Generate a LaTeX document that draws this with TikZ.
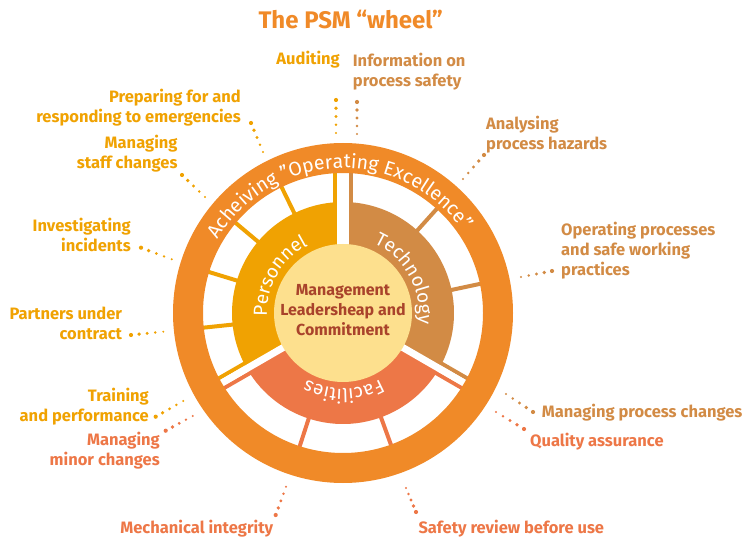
\documentclass[tikz,border=0pt]{standalone}
\usepackage{fontspec}
\setmainfont{Fira Sans}
\usetikzlibrary{calc,decorations.text}

\definecolor{ringorange}{HTML}{F08A28}
\definecolor{perscol}{HTML}{F0A202}
\definecolor{techcol}{HTML}{D28B45}
\definecolor{faccol}{HTML}{ED7747}
\definecolor{corecol}{HTML}{FDE08E}
\definecolor{coretext}{HTML}{A9432B}

% five dots, biggest at the label end (#1), smallest at the ring end (#2)
\newcommand{\psmdots}[3]{%
  \foreach \k in {0,...,4}
    \fill[#3] ($(#1)!\k/4!(#2)$) circle[radius={2.1-0.25*\k}];
}

\begin{document}
\begin{tikzpicture}[x=1pt, y=1pt,
    lbl/.style={font=\fontsize{16.5}{20}\selectfont\bfseries, inner sep=0pt},
    pers/.style={lbl, text=perscol},
    tech/.style={lbl, text=techcol},
    fac/.style={lbl, text=faccol},
    spoke/.style={line width=4pt},
    gap/.style={white, line width=#1}]
  \useasboundingbox (0,0) rectangle (747,-537);

  \node[font=\fontsize{24}{28}\selectfont\bfseries, text=ringorange, anchor=base, inner sep=0pt]
    (title) at (350.7,-28.3) {The PSM “wheel”};

  % the wheel
  \begin{scope}[shift={(343,-313)}]
    \fill[perscol] (0,0) -- (90:111) arc[start angle=90, end angle=210, radius=111] -- cycle;
    \fill[techcol] (0,0) -- (-30:111) arc[start angle=-30, end angle=90, radius=111] -- cycle;
    \fill[faccol] (0,0) -- (210:111) arc[start angle=210, end angle=330, radius=111] -- cycle;

    % spokes between the cells
    \foreach \a in {116,140,163,186}
      \draw[spoke, perscol] (\a:110) -- (\a:141);
    \foreach \a in {48,12}
      \draw[spoke, techcol] (\a:110) -- (\a:141);
    \foreach \a in {252,290}
      \draw[spoke, faccol] (\a:110) -- (\a:141);
    \draw[spoke, perscol] ([shift={(180:8)}]90:100) -- ([shift={(180:8)}]90:141);
    \draw[spoke, techcol] ([shift={(0:8)}]90:100) -- ([shift={(0:8)}]90:141);
    \draw[spoke, perscol] ([shift={(120:5.5)}]210:100) -- ([shift={(120:5.5)}]210:141);
    \draw[spoke, faccol] ([shift={(300:5.5)}]210:100) -- ([shift={(300:5.5)}]210:141);
    \draw[spoke, faccol] ([shift={(240:5.5)}]330:100) -- ([shift={(240:5.5)}]330:141);
    \draw[spoke, techcol] ([shift={(60:5.5)}]330:100) -- ([shift={(60:5.5)}]330:141);

    % white gaps between the three sectors
    \draw[gap=12pt] (0,0) -- (90:141);
    \draw[gap=7pt] (0,0) -- (210:141);
    \draw[gap=7pt] (0,0) -- (330:141);

    \fill[corecol] (0,0) circle[radius=69];
    \fill[ringorange, even odd rule] (0,0) circle[radius=170] (0,0) circle[radius=140];

    \path[decorate, decoration={text along path, text color=white, text align=center,
        text={|\fontsize{19.5}{20}\selectfont|Acheiving "Operating Excellence”}}]
      (182:145) arc[start angle=182, end angle=2, radius=145];

    \path[decorate, decoration={text along path, text color=white, text align=center,
        text={|\fontsize{19}{19}\selectfont|Personnel}}]
      (195:76) arc[start angle=195, end angle=105, radius=76];
    \path[decorate, decoration={text along path, text color=white, text align=center,
        text={|\fontsize{19}{19}\selectfont|Technology}}]
      (74:76) arc[start angle=74, end angle=-16, radius=76];
    \path[decorate, decoration={text along path, text color=white, text align=center,
        text={|\fontsize{19}{19}\selectfont|Facilities}}]
      (-44.5:76) arc[start angle=-44.5, end angle=-134.5, radius=76];

    \node[font=\fontsize{16}{20}\selectfont\bfseries, text=coretext, align=center, inner sep=0pt]
      (core) at (0,3) {Management\\Leadersheap and\\Commitment};
  \end{scope}

  % labels round the wheel
  \node[pers, anchor=base east] (audit) at (340,-65) {Auditing};
  \node[tech, anchor=north west, align=left] (info) at (352.7,-53) {Information on\\process safety};
  \node[pers, anchor=north east, align=right] (prep) at (241,-89) {Preparing for and\\responding to emergencies};
  \node[pers, anchor=north east, align=right] (staff) at (177.7,-135) {Managing\\staff changes};
  \node[tech, anchor=north west, align=left] (hazard) at (486,-116) {Analysing\\process hazards};
  \node[pers, anchor=north east, align=right] (invest) at (131,-218) {Investigating\\incidents};
  \node[tech, anchor=north west, align=left] (operate) at (561,-222) {Operating processes\\and safe working\\practices};
  \node[pers, anchor=north east, align=right] (partner) at (122.3,-306.5) {Partners under\\contract};
  \node[pers, anchor=north east, align=right] (train) at (149,-387.5) {Training\\and performance};
  \node[fac, anchor=north east, align=right] (minor) at (160,-432) {Managing\\minor changes};
  \node[tech, anchor=base west] (change) at (541.7,-417.3) {Managing process changes};
  \node[fac, anchor=base west] (quality) at (530,-446) {Quality assurance};
  \node[fac, anchor=base east] (mech) at (273.3,-533.3) {Mechanical integrity};
  \node[fac, anchor=base west] (safety) at (418.3,-533.3) {Safety review before use};

  % leader dots: label end, ring end
  \coordinate (audit-a) at (336,-100);   \coordinate (audit-b) at (336,-133);
  \coordinate (info-a) at (357,-102);    \coordinate (info-b) at (357,-134);
  \coordinate (prep-a) at (251,-123);    \coordinate (prep-b) at (263,-152);
  \coordinate (staff-a) at (182,-175);   \coordinate (staff-b) at (205,-197);
  \coordinate (hazard-a) at (484,-155);  \coordinate (hazard-b) at (463,-179);
  \coordinate (invest-a) at (141,-247.7); \coordinate (invest-b) at (171.7,-259.3);
  \coordinate (operate-a) at (552,-271); \coordinate (operate-b) at (521,-277);
  \coordinate (partner-a) at (131,-335); \coordinate (partner-b) at (163.3,-331.7);
  \coordinate (train-a) at (155.7,-416.7); \coordinate (train-b) at (183.3,-401);
  \coordinate (minor-a) at (165.7,-430.7); \coordinate (minor-b) at (192.7,-416);
  \coordinate (change-a) at (533,-412);  \coordinate (change-b) at (506,-394);
  \coordinate (quality-a) at (524,-429); \coordinate (quality-b) at (496,-412);
  \coordinate (safety-a) at (416,-512);  \coordinate (safety-b) at (406,-488);
  \coordinate (mech-a) at (275.7,-515);  \coordinate (mech-b) at (286,-486.7);

  \psmdots{audit-a}{audit-b}{perscol}
  \psmdots{info-a}{info-b}{techcol}
  \psmdots{prep-a}{prep-b}{perscol}
  \psmdots{staff-a}{staff-b}{perscol}
  \psmdots{hazard-a}{hazard-b}{techcol}
  \psmdots{invest-a}{invest-b}{perscol}
  \psmdots{operate-a}{operate-b}{techcol}
  \psmdots{partner-a}{partner-b}{perscol}
  \psmdots{train-a}{train-b}{perscol}
  \psmdots{minor-a}{minor-b}{faccol}
  \psmdots{change-a}{change-b}{techcol}
  \psmdots{quality-a}{quality-b}{faccol}
  \psmdots{safety-a}{safety-b}{faccol}
  \psmdots{mech-a}{mech-b}{faccol}
\end{tikzpicture}
\end{document}
